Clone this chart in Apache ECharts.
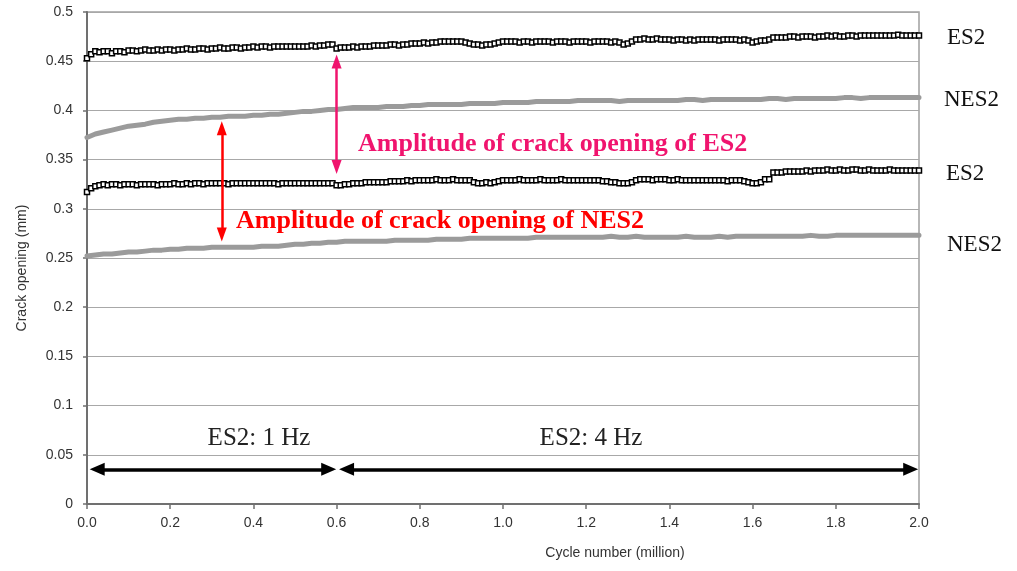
<!DOCTYPE html>
<html>
<head>
<meta charset="utf-8">
<script src="https://cdn.jsdelivr.net/npm/echarts@6/dist/echarts.min.js"></script>
<style>html,body{margin:0;padding:0;background:#fff}#c{width:1017px;height:571px}</style>
</head>
<body>
<div id="c"></div>
<script>
// Cycle number sampling (million cycles)
const es2Step = 0.01;   // ES2 readings every 0.01 million cycles
const nesStep = 0.02;   // NES2 readings every 0.02 million cycles

// ES2 upper (max crack opening), mm
const es2Upper = [
0.453,0.457,0.460,0.459,0.460,0.460,0.458,0.460,0.460,0.459,
0.461,0.461,0.460,0.461,0.462,0.461,0.461,0.462,0.461,0.462,
0.462,0.461,0.462,0.462,0.463,0.462,0.462,0.463,0.463,0.462,
0.463,0.463,0.464,0.463,0.463,0.464,0.464,0.463,0.464,0.464,
0.465,0.464,0.465,0.465,0.464,0.465,0.465,0.465,0.465,0.465,
0.465,0.465,0.465,0.465,0.466,0.465,0.466,0.466,0.467,0.467,
0.463,0.464,0.464,0.464,0.465,0.464,0.465,0.465,0.465,0.466,
0.466,0.466,0.466,0.467,0.467,0.466,0.467,0.467,0.468,0.468,
0.468,0.469,0.468,0.469,0.469,0.470,0.470,0.470,0.470,0.470,
0.470,0.469,0.468,0.467,0.467,0.466,0.467,0.467,0.468,0.469,
0.470,0.470,0.470,0.470,0.469,0.470,0.470,0.469,0.470,0.470,
0.470,0.470,0.469,0.470,0.470,0.470,0.469,0.470,0.470,0.470,
0.470,0.469,0.470,0.470,0.470,0.470,0.469,0.470,0.469,0.467,
0.468,0.470,0.472,0.472,0.473,0.472,0.472,0.473,0.472,0.472,
0.472,0.471,0.472,0.472,0.471,0.472,0.471,0.472,0.472,0.472,
0.472,0.472,0.471,0.472,0.472,0.472,0.472,0.471,0.472,0.471,
0.469,0.470,0.471,0.471,0.472,0.474,0.474,0.474,0.474,0.475,
0.475,0.474,0.475,0.475,0.475,0.474,0.475,0.475,0.476,0.475,
0.476,0.475,0.475,0.476,0.476,0.475,0.476,0.476,0.476,0.476,
0.476,0.476,0.476,0.476,0.476,0.477,0.476,0.476,0.476,0.476,
0.476];

// ES2 lower (min crack opening), mm
const es2Lower = [
0.317,0.321,0.323,0.324,0.325,0.324,0.325,0.325,0.324,0.325,
0.325,0.325,0.324,0.325,0.325,0.325,0.325,0.324,0.325,0.325,
0.325,0.326,0.325,0.325,0.326,0.325,0.326,0.326,0.325,0.326,
0.326,0.326,0.326,0.326,0.325,0.326,0.326,0.326,0.326,0.326,
0.326,0.326,0.326,0.326,0.326,0.326,0.325,0.326,0.326,0.326,
0.326,0.326,0.326,0.326,0.326,0.326,0.326,0.326,0.326,0.326,
0.324,0.324,0.325,0.325,0.326,0.326,0.326,0.327,0.327,0.327,
0.327,0.327,0.327,0.328,0.328,0.328,0.328,0.329,0.328,0.329,
0.329,0.329,0.329,0.329,0.330,0.329,0.329,0.329,0.330,0.329,
0.329,0.329,0.329,0.327,0.326,0.326,0.327,0.326,0.327,0.328,
0.329,0.329,0.329,0.329,0.330,0.329,0.329,0.329,0.329,0.330,
0.329,0.329,0.329,0.329,0.330,0.329,0.329,0.329,0.329,0.329,
0.329,0.329,0.329,0.329,0.328,0.328,0.327,0.327,0.326,0.326,
0.326,0.327,0.329,0.330,0.330,0.330,0.329,0.330,0.330,0.330,
0.329,0.329,0.330,0.329,0.329,0.329,0.329,0.329,0.329,0.329,
0.329,0.329,0.329,0.329,0.328,0.329,0.329,0.329,0.328,0.327,
0.326,0.326,0.327,0.330,0.330,0.337,0.337,0.337,0.338,0.338,
0.338,0.338,0.338,0.339,0.338,0.339,0.339,0.339,0.340,0.339,
0.339,0.340,0.339,0.339,0.340,0.340,0.339,0.339,0.340,0.339,
0.339,0.339,0.339,0.340,0.339,0.339,0.339,0.339,0.339,0.339,
0.339];

// NES2 upper, mm
const nes2Upper = [
0.3725,0.376,0.378,0.380,0.382,0.384,0.385,0.386,0.388,0.389,
0.390,0.391,0.391,0.392,0.392,0.393,0.393,0.394,0.394,0.394,
0.395,0.395,0.396,0.396,0.397,0.398,0.399,0.399,0.400,0.401,
0.401,0.402,0.403,0.403,0.403,0.403,0.404,0.404,0.404,0.405,
0.405,0.406,0.406,0.406,0.406,0.406,0.407,0.407,0.407,0.407,
0.408,0.408,0.408,0.408,0.409,0.409,0.409,0.409,0.409,0.410,
0.410,0.410,0.410,0.410,0.409,0.410,0.410,0.410,0.410,0.410,
0.410,0.410,0.411,0.411,0.410,0.411,0.411,0.411,0.411,0.411,
0.411,0.411,0.412,0.412,0.411,0.412,0.412,0.412,0.412,0.412,
0.412,0.413,0.413,0.412,0.413,0.413,0.413,0.413,0.413,0.413,
0.413];

// NES2 lower, mm
const nes2Lower = [
0.252,0.253,0.254,0.254,0.255,0.256,0.256,0.257,0.258,0.258,
0.259,0.259,0.260,0.260,0.260,0.261,0.261,0.261,0.261,0.261,
0.261,0.262,0.262,0.262,0.263,0.264,0.264,0.265,0.265,0.266,
0.266,0.267,0.267,0.267,0.267,0.267,0.267,0.268,0.268,0.268,
0.268,0.268,0.269,0.269,0.269,0.269,0.270,0.270,0.270,0.270,
0.270,0.270,0.270,0.270,0.271,0.271,0.271,0.271,0.271,0.271,
0.271,0.271,0.271,0.272,0.271,0.271,0.272,0.271,0.271,0.271,
0.271,0.271,0.272,0.271,0.271,0.271,0.272,0.271,0.272,0.272,
0.272,0.272,0.272,0.272,0.272,0.272,0.272,0.273,0.272,0.272,
0.273,0.273,0.273,0.273,0.273,0.273,0.273,0.273,0.273,0.273,
0.273];

// Annotation arrows (data coordinates of arrowhead centres)
const ampES2 = {x: 0.6, from: 0.4496, to: 0.3425};
const ampNES2 = {x: 0.324, from: 0.3819, to: 0.2738};
const freqY = 0.0353;
const freq1 = [0.0245, 0.581];
const freq4 = [0.624, 1.98];

function pairs(vals, step) {
  return vals.map((v, i) => [+(i * step).toFixed(3), v]);
}

const chart = echarts.init(document.getElementById('c'), null, {renderer: 'canvas'});
const sans = 'Liberation Sans, Arial, sans-serif';
const serif = 'Liberation Serif, Times New Roman, serif';
const magenta = '#f0146e';

const es2Style = {
  type: 'line',
  symbol: 'rect',
  symbolSize: 5,
  showSymbol: true,
  clip: false,
  itemStyle: {color: '#ffffff', borderColor: '#000000', borderWidth: 1.5},
  lineStyle: {color: '#000000', width: 1.3},
  z: 4,
  animation: false
};
const nesStyle = {
  type: 'line',
  showSymbol: false,
  clip: false,
  lineStyle: {color: '#9b9b9b', width: 5, join: 'round', cap: 'round'},
  z: 3,
  animation: false
};

function arrowLine(x1, y1, x2, y2, color, width, size) {
  return {
    lineStyle: {color: color, width: width, type: 'solid'},
    symbol: ['triangle', 'triangle'],
    symbolSize: size,
    data: [[{coord: [x1, y1]}, {coord: [x2, y2]}]]
  };
}

const option = {
  backgroundColor: '#ffffff',
  animation: false,
  grid: {left: 87, right: 98, top: 12, bottom: 67, show: true, borderColor: '#a0a0a0', borderWidth: 1.5},
  xAxis: {
    type: 'value', min: 0, max: 2, interval: 0.2,
    axisLine: {show: true, lineStyle: {color: '#707070', width: 2}},
    axisTick: {show: true, length: 5, lineStyle: {color: '#707070', width: 1.5}},
    axisLabel: {color: '#333', fontFamily: sans, fontSize: 14, margin: 12, formatter: v => v.toFixed(1)},
    splitLine: {show: false}
  },
  yAxis: {
    type: 'value', min: 0, max: 0.5, interval: 0.05,
    axisLine: {show: true, lineStyle: {color: '#707070', width: 2}},
    axisTick: {show: true, length: 4, lineStyle: {color: '#707070', width: 1.5}},
    axisLabel: {color: '#333', fontFamily: sans, fontSize: 14, margin: 14, formatter: v => String(+v.toFixed(2))},
    splitLine: {show: true, lineStyle: {color: '#a8a8a8', width: 1.2}}
  },
  series: [
    Object.assign({name: 'NES2 upper', data: pairs(nes2Upper, nesStep)}, nesStyle),
    Object.assign({name: 'NES2 lower', data: pairs(nes2Lower, nesStep)}, nesStyle),
    Object.assign({name: 'ES2 upper', data: pairs(es2Upper, es2Step)}, es2Style),
    Object.assign({name: 'ES2 lower', data: pairs(es2Lower, es2Step)}, es2Style),
    {type: 'line', data: [], z: 6, silent: true,
     markLine: Object.assign({silent: true, animation: false, label: {show: false}},
       arrowLine(ampES2.x, ampES2.from, ampES2.x, ampES2.to, magenta, 2.5, [10, 14]))},
    {type: 'line', data: [], z: 6, silent: true,
     markLine: Object.assign({silent: true, animation: false, label: {show: false}},
       arrowLine(ampNES2.x, ampNES2.from, ampNES2.x, ampNES2.to, '#ff0000', 2.5, [10, 14]))},
    {type: 'line', data: [], z: 6, silent: true,
     markLine: Object.assign({silent: true, animation: false, label: {show: false}},
       arrowLine(freq1[0], freqY, freq1[1], freqY, '#000000', 3.5, [13, 15]))},
    {type: 'line', data: [], z: 6, silent: true,
     markLine: Object.assign({silent: true, animation: false, label: {show: false}},
       arrowLine(freq4[0], freqY, freq4[1], freqY, '#000000', 3.5, [13, 15]))}
  ],
  graphic: [
    {type: 'text', style: {text: 'Amplitude of crack opening of ES2', x: 358, y: 144, align: 'left', verticalAlign: 'middle', font: 'bold 26px ' + serif, fill: magenta}, z: 10},
    {type: 'text', style: {text: 'Amplitude of crack opening of NES2', x: 236, y: 221, align: 'left', verticalAlign: 'middle', font: 'bold 26px ' + serif, fill: '#ff0000'}, z: 10},
    {type: 'text', style: {text: 'ES2', x: 947, y: 38, align: 'left', verticalAlign: 'middle', font: '23px ' + serif, fill: '#111'}},
    {type: 'text', style: {text: 'NES2', x: 944, y: 100, align: 'left', verticalAlign: 'middle', font: '23px ' + serif, fill: '#111'}},
    {type: 'text', style: {text: 'ES2', x: 946, y: 174, align: 'left', verticalAlign: 'middle', font: '23px ' + serif, fill: '#111'}},
    {type: 'text', style: {text: 'NES2', x: 947, y: 245, align: 'left', verticalAlign: 'middle', font: '23px ' + serif, fill: '#111'}},
    {type: 'text', style: {text: 'ES2: 1 Hz', x: 259, y: 438, align: 'center', verticalAlign: 'middle', font: '25px ' + serif, fill: '#222'}},
    {type: 'text', style: {text: 'ES2: 4 Hz', x: 591, y: 438, align: 'center', verticalAlign: 'middle', font: '25px ' + serif, fill: '#222'}},
    {type: 'text', style: {text: 'Cycle number (million)', x: 615, y: 553, align: 'center', verticalAlign: 'middle', font: '14px ' + sans, fill: '#333'}},
    {type: 'text', rotation: Math.PI / 2, x: 22, y: 268, style: {text: 'Crack opening (mm)', x: 0, y: 0, align: 'center', verticalAlign: 'middle', font: '14px ' + sans, fill: '#333'}}
  ]
};
chart.setOption(option);
</script>
</body>
</html>
